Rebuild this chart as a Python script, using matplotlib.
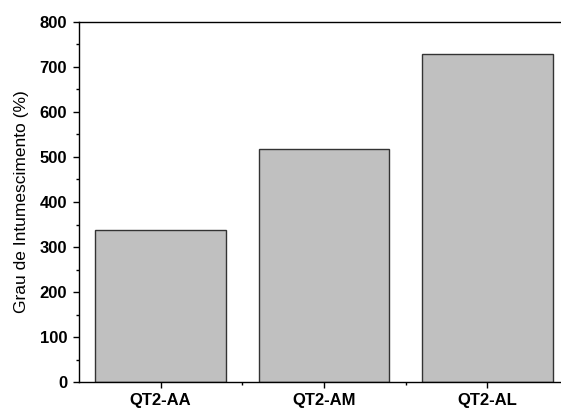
import matplotlib
matplotlib.use("Agg")
import matplotlib.pyplot as plt
from matplotlib.ticker import MultipleLocator, FixedLocator

plt.rcParams['font.family'] = ['Liberation Sans', 'DejaVu Sans']

categories = ["QT2-AA", "QT2-AM", "QT2-AL"]
swelling = [337, 517, 728]

W, H = 561, 409
fig = plt.figure(figsize=(W / 100, H / 100), dpi=100)
x0, x1 = 79, 569
y0, y1 = 382.3, 21.7
ax = fig.add_axes([x0 / W, (H - y0) / H, (x1 - x0) / W, (y0 - y1) / H])

pos = list(range(1, len(categories) + 1))
ax.bar(pos, swelling, width=0.8, color="#c0c0c0", edgecolor="#333333", linewidth=1.0)

ax.set_xlim(0.5, 3.5)
ax.set_ylim(0, 800)

ax.set_xticks(pos)
ax.set_xticklabels(categories, fontweight="bold", fontsize=12)
ax.xaxis.set_minor_locator(FixedLocator([1.5, 2.5]))
ax.yaxis.set_major_locator(MultipleLocator(100))
ax.yaxis.set_minor_locator(MultipleLocator(50))
for lbl in ax.get_yticklabels():
    lbl.set_fontweight("bold")
    lbl.set_fontsize(12)

ax.tick_params(axis="both", which="major", direction="out", length=4.5, width=1)
ax.tick_params(axis="both", which="minor", direction="out", length=2.5, width=1)
ax.tick_params(axis="y", which="major", pad=4)
ax.tick_params(axis="x", which="major", pad=3)

ax.spines["right"].set_visible(False)
for s in ("left", "bottom", "top"):
    ax.spines[s].set_linewidth(1.0)

ax.set_ylabel("Grau de Intumescimento (%)", fontsize=12.5, labelpad=8)

fig.savefig("out.png", dpi=100)
